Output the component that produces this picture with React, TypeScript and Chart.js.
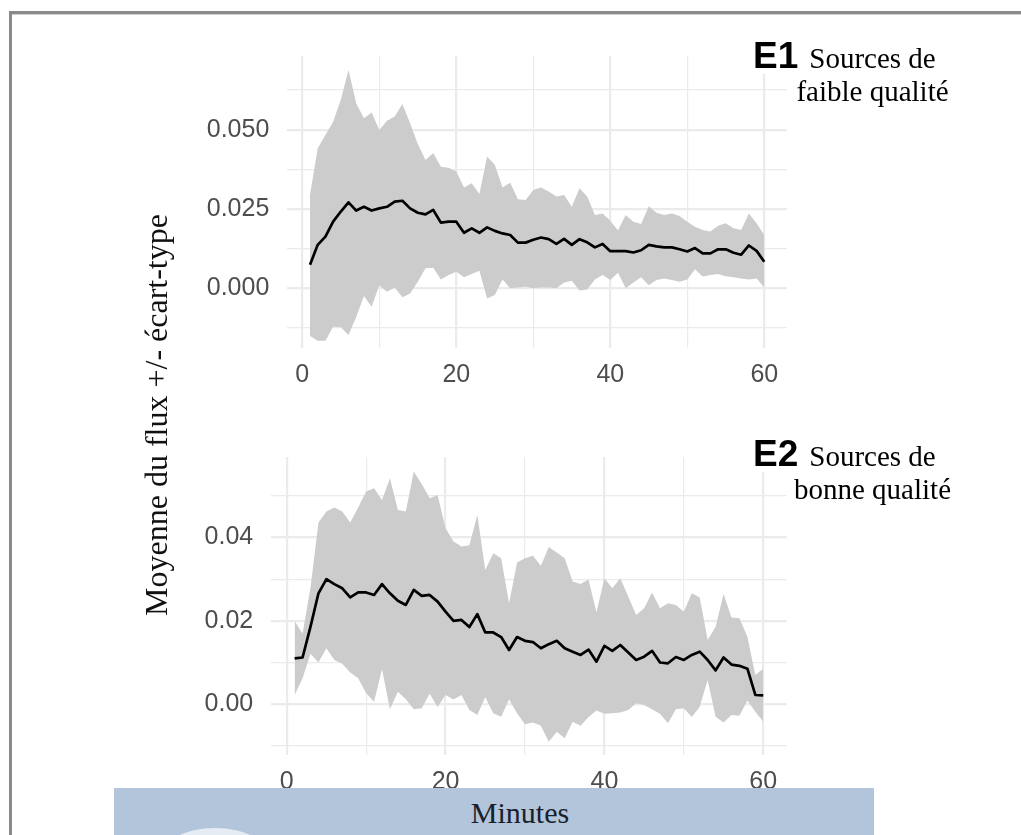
import React, { useEffect, useRef } from 'react';
import { Chart, registerables } from 'chart.js';

Chart.register(...registerables);

// ---------- data ----------
const MINUTES = [
  1, 2, 3, 4, 5, 6, 7, 8, 9, 10, 11, 12, 13, 14, 15, 16, 17, 18, 19, 20,
  21, 22, 23, 24, 25, 26, 27, 28, 29, 30, 31, 32, 33, 34, 35, 36, 37, 38, 39, 40,
  41, 42, 43, 44, 45, 46, 47, 48, 49, 50, 51, 52, 53, 54, 55, 56, 57, 58, 59, 60,
];

// E1 — Sources de faible qualité
const E1_MEAN = [
  0.0074, 0.0137, 0.0163, 0.021, 0.0242, 0.0271, 0.0245, 0.0257, 0.0245, 0.0252,
  0.0257, 0.0273, 0.0276, 0.0252, 0.0238, 0.0233, 0.0247, 0.0207, 0.021, 0.021,
  0.0175, 0.0189, 0.0175, 0.0192, 0.0181, 0.0173, 0.0168, 0.0144, 0.0144, 0.0153,
  0.016, 0.0155, 0.014, 0.0156, 0.0137, 0.0155, 0.0145, 0.0129, 0.014, 0.0117,
  0.0117, 0.0117, 0.0113, 0.012, 0.0137, 0.0132, 0.0129, 0.0129, 0.0123, 0.0116,
  0.0127, 0.011, 0.011, 0.0123, 0.0123, 0.0112, 0.0106, 0.0135, 0.0118, 0.0084,
];
const E1_UPPER = [
  0.0294, 0.0441, 0.0483, 0.0525, 0.0594, 0.0688, 0.0583, 0.0536, 0.0554, 0.0499,
  0.0528, 0.0541, 0.0581, 0.052, 0.0455, 0.0404, 0.0426, 0.0383, 0.038, 0.0368,
  0.0318, 0.0331, 0.0297, 0.0415, 0.0389, 0.0318, 0.0333, 0.0281, 0.0278, 0.031,
  0.0318, 0.0305, 0.0289, 0.0294, 0.0257, 0.0315, 0.0289, 0.0231, 0.0236, 0.0213,
  0.0182, 0.0231, 0.021, 0.0203, 0.0259, 0.0238, 0.0231, 0.0236, 0.0228, 0.021,
  0.0194, 0.0184, 0.0179, 0.0197, 0.0205, 0.0189, 0.0184, 0.0236, 0.0205, 0.0168,
];
const E1_LOWER = [
  -0.015, -0.0165, -0.0165, -0.0121, -0.0123, -0.0147, -0.009, -0.0024, -0.0058, 0.001,
  -0.0011, 0.0003, -0.0028, -0.0016, 0.0021, 0.0063, 0.0065, 0.0028, 0.0042, 0.0052,
  0.0035, 0.0045, 0.0055, -0.0032, -0.0021, 0.0028, 0.0, 0.0003, 0.0005, 0.0,
  0.0003, 0.0003, 0.0, 0.0018, 0.0024, -0.0007, -0.0004, 0.0028, 0.0042, 0.0026,
  0.0049, 0.0, 0.0018, 0.0035, 0.001, 0.0026, 0.0031, 0.0026, 0.0021, 0.0028,
  0.006, 0.0037, 0.0042, 0.0045, 0.0038, 0.0035, 0.0031, 0.0028, 0.0031, 0.0003,
];

// E2 — Sources de bonne qualité
const E2_MEAN = [
  0.011, 0.0112, 0.0186, 0.0266, 0.03, 0.0288, 0.0278, 0.0256, 0.0268, 0.0268,
  0.0262, 0.0288, 0.0266, 0.0248, 0.0238, 0.0274, 0.026, 0.0262, 0.0246, 0.0222,
  0.02, 0.0202, 0.0185, 0.0216, 0.0172, 0.0172, 0.0161, 0.013, 0.0161, 0.0152,
  0.0149, 0.0134, 0.0144, 0.0152, 0.0134, 0.0126, 0.0118, 0.0131, 0.0102, 0.014,
  0.0128, 0.0142, 0.0124, 0.0106, 0.0114, 0.0128, 0.01, 0.0098, 0.0113, 0.0106,
  0.0118, 0.0126, 0.0106, 0.0081, 0.0112, 0.0095, 0.0092, 0.0085, 0.0022, 0.0021,
];
const E2_UPPER = [
  0.02, 0.0169, 0.028, 0.0436, 0.0462, 0.0472, 0.0462, 0.0436, 0.0472, 0.051,
  0.0518, 0.049, 0.0542, 0.0466, 0.0462, 0.0558, 0.0528, 0.0494, 0.0502, 0.0422,
  0.039, 0.0378, 0.0381, 0.0454, 0.0322, 0.0362, 0.035, 0.0242, 0.034, 0.035,
  0.0356, 0.0332, 0.0377, 0.0364, 0.035, 0.0294, 0.0288, 0.0299, 0.022, 0.0302,
  0.0278, 0.0302, 0.0258, 0.0214, 0.023, 0.0268, 0.023, 0.0242, 0.0238, 0.0222,
  0.0266, 0.0256, 0.0154, 0.0186, 0.0264, 0.0208, 0.0206, 0.0162, 0.007, 0.0085,
];
const E2_LOWER = [
  0.0022, 0.0062, 0.0121, 0.01, 0.0134, 0.0106, 0.0097, 0.0076, 0.0062, 0.0026,
  0.0006, 0.0084, -0.0012, 0.003, 0.0012, -0.0012, -0.001, 0.0025, -0.0007, 0.0022,
  0.0011, 0.0022, -0.0014, -0.0026, 0.0017, -0.0022, -0.003, 0.0012, -0.0022, -0.0048,
  -0.0044, -0.0052, -0.009, -0.0066, -0.0082, -0.0042, -0.0052, -0.0031, -0.0015, -0.0023,
  -0.0022, -0.002, -0.0014, 0.0002, -0.0002, -0.0012, -0.0023, -0.0046, -0.0012, -0.001,
  -0.0031, -0.0006, 0.0058, -0.003, -0.0044, -0.0026, -0.0028, 0.0009, -0.0018, -0.0042,
];

// ticks (majors carry a label, minors an empty string)
const X_TICKS = [0, 10, 20, 30, 40, 50, 60];
const X_LABELS = ['0', '', '20', '', '40', '', '60'];
const E1_Y_TICKS = [-0.0125, 0, 0.0125, 0.025, 0.0375, 0.05, 0.0625];
const E1_Y_LABELS = ['', '0.000', '', '0.025', '', '0.050', ''];
const E2_Y_TICKS = [-0.01, 0, 0.01, 0.02, 0.03, 0.04, 0.05];
const E2_Y_LABELS = ['', '0.00', '', '0.02', '', '0.04', ''];

const RIBBON = '#cccccc';
const GRID = '#ebebeb';
const TICK_TEXT = '#4d4d4d';

type PanelProps = {
  top: number;
  height: number;
  area: { left: number; right: number; top: number; bottom: number };
  xRange: [number, number];
  yRange: [number, number];
  yTicks: number[];
  yLabels: string[];
  mean: number[];
  upper: number[];
  lower: number[];
};

const W = 1021;

function Panel(p: PanelProps) {
  const ref = useRef<HTMLCanvasElement | null>(null);
  useEffect(() => {
    if (!ref.current) return;
    const pts = (arr: number[]) => arr.map((v, i) => ({ x: MINUTES[i], y: v }));
    const xAxisH = 40;
    const chart = new Chart(ref.current, {
      type: 'line',
      data: {
        datasets: [
          {
            data: pts(p.upper),
            borderWidth: 0,
            pointRadius: 0,
            backgroundColor: RIBBON,
            borderColor: 'rgba(0,0,0,0)',
            fill: '+1',
            order: 1,
          },
          {
            data: pts(p.lower),
            borderWidth: 0,
            pointRadius: 0,
            borderColor: 'rgba(0,0,0,0)',
            fill: false,
            order: 1,
          },
          {
            data: pts(p.mean),
            borderColor: '#000000',
            borderWidth: 2.7,
            pointRadius: 0,
            fill: false,
            tension: 0,
            borderJoinStyle: 'round',
            order: 0,
          },
        ],
      },
      options: {
        responsive: false,
        animation: false,
        devicePixelRatio: 1,
        layout: {
          padding: {
            left: 0,
            right: W - p.area.right,
            top: p.area.top - p.top,
            bottom: p.top + p.height - p.area.bottom - xAxisH,
          },
        },
        plugins: { legend: { display: false }, tooltip: { enabled: false } },
        scales: {
          x: {
            type: 'linear',
            min: p.xRange[0],
            max: p.xRange[1],
            bounds: 'data',
            afterBuildTicks: (s: any) => {
              s.ticks = X_TICKS.map((v) => ({ value: v }));
            },
            afterFit: (s: any) => {
              s.height = xAxisH;
            },
            ticks: {
              autoSkip: false,
              maxRotation: 0,
              padding: 12,
              color: TICK_TEXT,
              font: { family: 'Liberation Sans', size: 25 },
              callback: (_v: any, i: number) => X_LABELS[i],
            },
            grid: {
              color: GRID,
              drawTicks: false,
              lineWidth: (ctx: any) => (X_LABELS[ctx.index] ? 2.2 : 1.2),
            },
            border: { display: false },
          },
          y: {
            type: 'linear',
            min: p.yRange[0],
            max: p.yRange[1],
            bounds: 'data',
            afterBuildTicks: (s: any) => {
              s.ticks = p.yTicks.map((v) => ({ value: v }));
            },
            afterFit: (s: any) => {
              s.width = p.area.left;
            },
            ticks: {
              autoSkip: false,
              padding: 18,
              color: TICK_TEXT,
              font: { family: 'Liberation Sans', size: 25 },
              callback: (_v: any, i: number) => p.yLabels[i],
            },
            grid: {
              color: GRID,
              drawTicks: false,
              lineWidth: (ctx: any) => (p.yLabels[ctx.index] ? 2.2 : 1.2),
            },
            border: { display: false },
          },
        },
      },
    } as any);
    return () => chart.destroy();
  }, []);
  return (
    <canvas
      ref={ref}
      width={W}
      height={p.height}
      style={{ position: 'absolute', left: 0, top: p.top, width: W, height: p.height }}
    />
  );
}

const serif = '"Liberation Serif", "Times New Roman", serif';
const sans = '"Liberation Sans", Arial, sans-serif';

function Label({ tag, line1, line2, top }: { tag: string; line1: string; line2: string; top: number }) {
  return (
    <>
      <div
        style={{
          position: 'absolute',
          left: 753,
          top: top - 5,
          font: `bold 37px ${sans}`,
          lineHeight: '37px',
          color: '#000',
          background: '#fff',
          paddingRight: 2,
        }}
      >
        {tag}
      </div>
      <div
        style={{
          position: 'absolute',
          left: 772.5,
          width: 200,
          top: top,
          textAlign: 'center',
          font: `29px ${serif}`,
          lineHeight: '33.4px',
          color: '#000',
          whiteSpace: 'nowrap',
        }}
      >
        <div>{line1}</div>
        <div>{line2}</div>
      </div>
    </>
  );
}

export default function App() {
  return (
    <div
      style={{
        position: 'absolute',
        left: 0,
        top: 0,
        width: W,
        height: 835,
        overflow: 'hidden',
        background: '#ffffff',
      }}
    >
      {/* frame */}
      <div style={{ position: 'absolute', left: 9, top: 11, width: 1012, height: 3, background: '#8a8a8a' }} />
      <div style={{ position: 'absolute', left: 9, top: 14, width: 1012, height: 1, background: '#cfcfcf' }} />
      <div style={{ position: 'absolute', left: 9, top: 11, width: 3, height: 824, background: '#8a8a8a' }} />

      <Panel
        top={0}
        height={410}
        area={{ left: 287.3, right: 787, top: 56, bottom: 348 }}
        xRange={[-1.95, 62.95]}
        yRange={[-0.0188, 0.0732]}
        yTicks={E1_Y_TICKS}
        yLabels={E1_Y_LABELS}
        mean={E1_MEAN}
        upper={E1_UPPER}
        lower={E1_LOWER}
      />
      <Panel
        top={410}
        height={410}
        area={{ left: 271.2, right: 786.7, top: 457, bottom: 755 }}
        xRange={[-1.95, 62.95]}
        yRange={[-0.0122, 0.0593]}
        yTicks={E2_Y_TICKS}
        yLabels={E2_Y_LABELS}
        mean={E2_MEAN}
        upper={E2_UPPER}
        lower={E2_LOWER}
      />

      <Label tag="E1" line1="Sources de" line2="faible qualité" top={42} />
      <Label tag="E2" line1="Sources de" line2="bonne qualité" top={440} />

      {/* y-axis title */}
      <div
        style={{
          position: 'absolute',
          left: 155 - 250,
          top: 415 - 17,
          width: 500,
          height: 34,
          lineHeight: '34px',
          textAlign: 'center',
          font: `32px ${serif}`,
          color: '#111',
          transform: 'rotate(-90deg)',
          whiteSpace: 'nowrap',
        }}
      >
        Moyenne du flux +/- écart-type
      </div>

      {/* bottom band with x-axis title */}
      <div style={{ position: 'absolute', left: 114, top: 788, width: 760, height: 47, background: '#b3c5da', overflow: 'hidden' }}>
        <div
          style={{
            position: 'absolute',
            left: 46,
            top: 40,
            width: 110,
            height: 60,
            borderRadius: '50%',
            background: '#e6ecf3',
          }}
        />
      </div>
      <div
        style={{
          position: 'absolute',
          left: 420,
          top: 798,
          width: 200,
          textAlign: 'center',
          font: `30px ${serif}`,
          lineHeight: '30px',
          color: '#18212e',
          whiteSpace: 'nowrap',
        }}
      >
        Minutes
      </div>
    </div>
  );
}
